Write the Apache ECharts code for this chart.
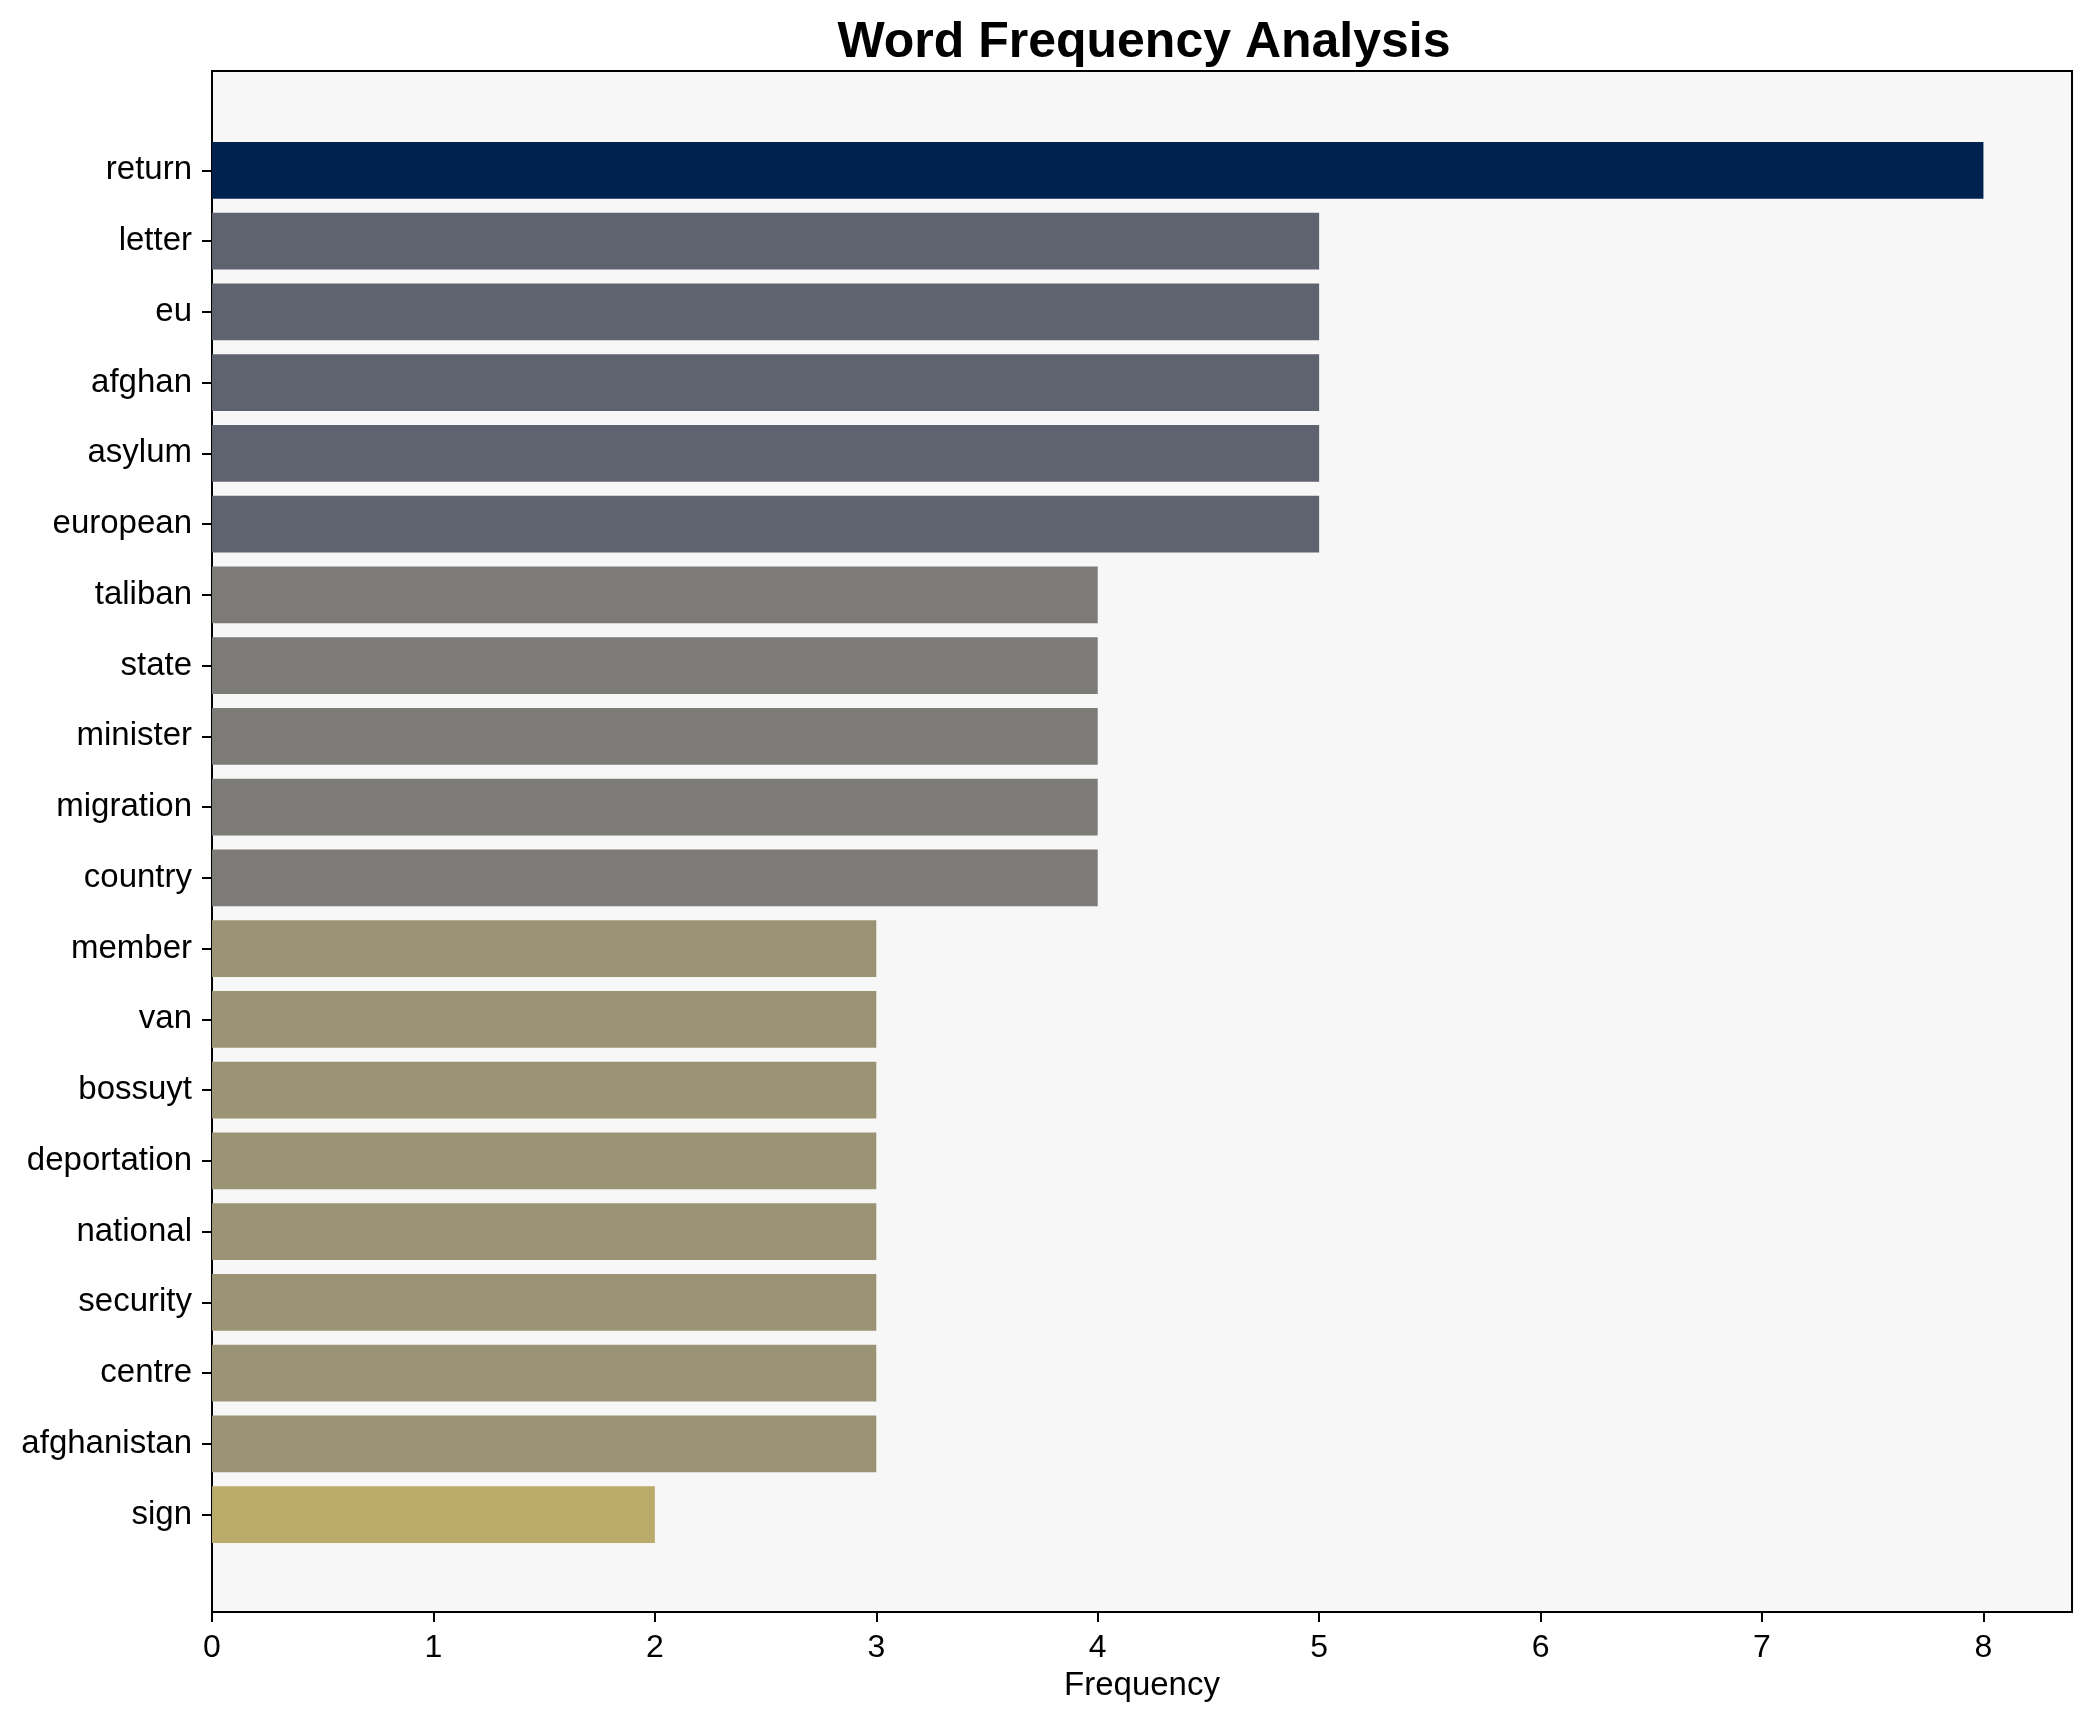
<!DOCTYPE html>
<html>
<head>
<meta charset="utf-8">
<script src="https://cdn.jsdelivr.net/npm/echarts@6/dist/echarts.min.js"></script>
<style>
html,body{margin:0;padding:0;background:#fff;}
#chart{width:2092px;height:1722px;}
</style>
</head>
<body>
<div id="chart"></div>
<script>
const words = ["return","letter","eu","afghan","asylum","european","taliban","state","minister","migration","country","member","van","bossuyt","deportation","national","security","centre","afghanistan","sign"];
const freqs = [8,5,5,5,5,5,4,4,4,4,4,3,3,3,3,3,3,3,3,2];
const xTicks = [0,1,2,3,4,5,6,7,8];

// colour scale (cividis-like, reversed by frequency)
const levelColors = {8:'#00224e',5:'#5f6370',4:'#7c7b78',3:'#9b9474',2:'#bbab6b'};

const FONT = '"Liberation Sans", Arial, sans-serif';
const chart = echarts.init(document.getElementById('chart'), null, {renderer:'canvas'});
const option = {
  backgroundColor:'#ffffff',
  animation:false,
  title:{
    text:'Word Frequency Analysis',
    left:1139, top:13, textAlign:'center',
    textStyle:{fontFamily:FONT,fontWeight:'bold',fontSize:50,color:'#000'}
  },
  grid:[
    {left:212,right:20,top:71,bottom:110,show:true,backgroundColor:'#f7f7f7',borderColor:'#000',borderWidth:2,containLabel:false},
    {left:212,right:20,top:135,bottom:172,containLabel:false}
  ],
  xAxis:[
    {type:'value',gridIndex:0,min:0,max:8.4,interval:1,
     axisLine:{show:false},splitLine:{show:false},
     axisTick:{show:true,length:10,lineStyle:{color:'#000',width:2},customValues:xTicks},
     axisLabel:{show:true,margin:20,fontFamily:FONT,fontSize:32,color:'#000',customValues:xTicks},
     name:'Frequency',nameLocation:'middle',nameGap:57,
     nameTextStyle:{fontFamily:FONT,fontSize:33,color:'#000'}},
    {type:'value',gridIndex:1,min:0,max:8.4,show:false}
  ],
  yAxis:[
    {type:'value',gridIndex:0,show:false,min:0,max:1},
    {type:'category',gridIndex:1,data:words,inverse:true,
     axisLine:{show:false},splitLine:{show:false},
     axisTick:{show:true,alignWithLabel:true,length:10,lineStyle:{color:'#000',width:2}},
     axisLabel:{margin:20,fontFamily:FONT,fontSize:33,color:'#000'}}
  ],
  series:[{
    type:'bar',xAxisIndex:1,yAxisIndex:1,barWidth:'80%',
    data:freqs.map(v=>({value:v,itemStyle:{color:levelColors[v]}}))
  }]
};
chart.setOption(option);
</script>
</body>
</html>
